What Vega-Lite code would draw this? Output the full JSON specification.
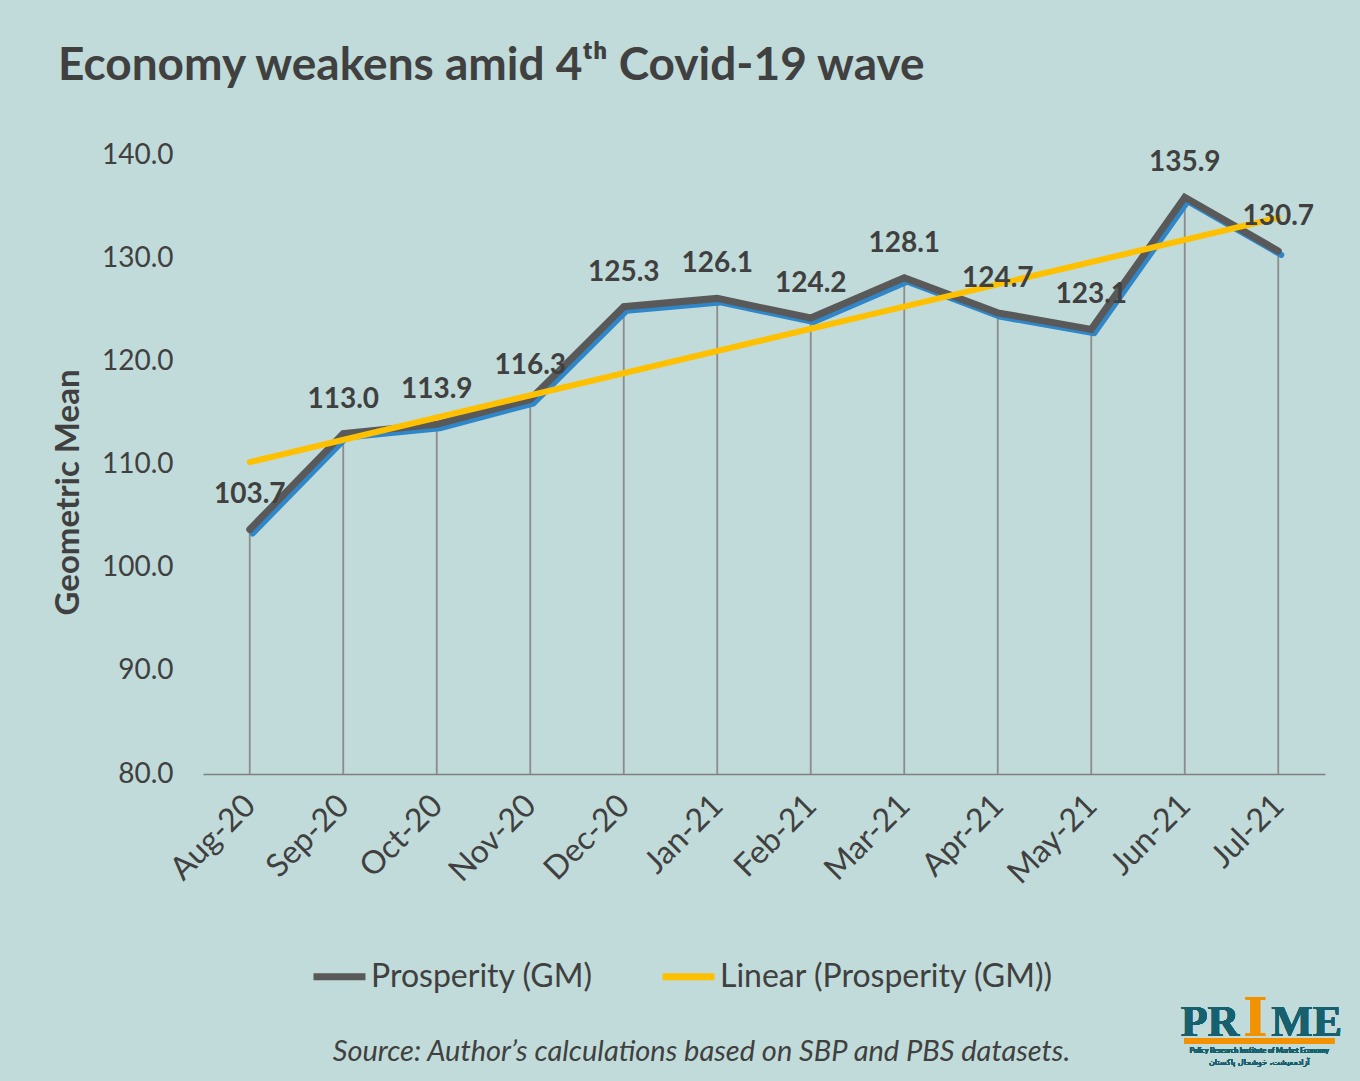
{
  "$schema": "https://vega.github.io/schema/vega-lite/v6.json",
  "width": 1122,
  "height": 619,
  "autosize": {"type": "none"},
  "padding": {"left": 203, "top": 155, "right": 35, "bottom": 307},
  "background": "#c0dbd9",
  "config": {
    "view": {"stroke": null},
    "font": "Lato",
    "legend": {"orient": "none"}
  },
  "title": {
    "text": "Economy weakens amid 4ᵗʰ Covid-19 wave",
    "anchor": "start",
    "frame": "group",
    "orient": "top",
    "font": "Lato",
    "fontSize": 46,
    "fontWeight": "bold",
    "color": "#404040",
    "dx": -145,
    "offset": 15,
    "baseline": "alphabetic"
  },
  "data": {
    "values": [
      {"i": 0, "month": "Aug-20", "value": 103.7},
      {"i": 1, "month": "Sep-20", "value": 113.0},
      {"i": 2, "month": "Oct-20", "value": 113.9},
      {"i": 3, "month": "Nov-20", "value": 116.3},
      {"i": 4, "month": "Dec-20", "value": 125.3},
      {"i": 5, "month": "Jan-21", "value": 126.1},
      {"i": 6, "month": "Feb-21", "value": 124.2},
      {"i": 7, "month": "Mar-21", "value": 128.1},
      {"i": 8, "month": "Apr-21", "value": 124.7},
      {"i": 9, "month": "May-21", "value": 123.1},
      {"i": 10, "month": "Jun-21", "value": 135.9},
      {"i": 11, "month": "Jul-21", "value": 130.7}
    ]
  },
  "encoding": {
    "x": {
      "field": "i",
      "type": "quantitative",
      "scale": {"domain": [-0.5, 11.5], "nice": false, "zero": false},
      "axis": {
        "values": [0, 1, 2, 3, 4, 5, 6, 7, 8, 9, 10, 11],
        "labelExpr": "['Aug-20','Sep-20','Oct-20','Nov-20','Dec-20','Jan-21','Feb-21','Mar-21','Apr-21','May-21','Jun-21','Jul-21'][datum.value]",
        "grid": false,
        "ticks": false,
        "tickSize": 0,
        "domainColor": "#7f7f7f",
        "domainWidth": 1.5,
        "labelAngle": -45,
        "labelAlign": "right",
        "labelBaseline": "middle",
        "labelPadding": 26,
        "labelFontSize": 32,
        "labelColor": "#404040",
        "labelFont": "Lato",
        "labelOverlap": false,
        "title": "Source: Author’s calculations based on SBP and PBS datasets.",
        "titleFont": "Lato",
        "titleFontSize": 29,
        "titleFontStyle": "italic",
        "titleFontWeight": "normal",
        "titleColor": "#404040",
        "titleX": 498,
        "titleY": 286,
        "titleAlign": "center",
        "titleBaseline": "alphabetic",
        "titleAnchor": "start"
      }
    },
    "y": {
      "field": "value",
      "type": "quantitative",
      "scale": {"domain": [80, 140], "nice": false, "zero": false},
      "axis": {
        "values": [80, 90, 100, 110, 120, 130, 140],
        "format": ".1f",
        "grid": false,
        "domain": false,
        "ticks": false,
        "tickSize": 0,
        "labelPadding": 30,
        "labelFontSize": 28,
        "labelColor": "#404040",
        "labelFont": "Lato",
        "title": "Geometric Mean",
        "titleFont": "Lato",
        "titleFontSize": 33,
        "titleFontWeight": "bold",
        "titleColor": "#404040",
        "titleAngle": 270,
        "titleX": -135,
        "titleY": 337,
        "titleAlign": "center",
        "titleBaseline": "middle",
        "titleAnchor": "start"
      }
    }
  },
  "layer": [
    {
      "mark": {"type": "rule", "color": "#8c8c8c", "strokeWidth": 1.8},
      "encoding": {"y2": {"datum": 80}}
    },
    {
      "mark": {"type": "line", "color": "#2f86c9", "strokeWidth": 6, "strokeCap": "round", "strokeJoin": "round", "xOffset": 3, "yOffset": 4}
    },
    {
      "mark": {"type": "line", "strokeWidth": 7, "strokeCap": "round", "strokeJoin": "miter"},
      "encoding": {
        "color": {
          "datum": "Prosperity (GM)",
          "type": "nominal",
          "scale": {"domain": ["Prosperity (GM)", "Linear (Prosperity (GM))"], "range": ["#595959", "#ffc000"]},
          "legend": {
            "title": null,
            "direction": "horizontal",
            "orient": "none",
            "legendX": 107,
            "legendY": 792,
            "symbolType": "stroke",
            "symbolSize": 2700,
            "symbolStrokeWidth": 7,
            "labelFontSize": 32,
            "labelLimit": 0,
            "labelColor": "#404040",
            "labelFont": "Lato",
            "labelOffset": 2,
            "columnPadding": 55
          }
        }
      }
    },
    {
      "transform": [{"regression": "value", "on": "i", "method": "linear"}],
      "mark": {"type": "line", "strokeWidth": 6, "strokeCap": "round"},
      "encoding": {
        "color": {"datum": "Linear (Prosperity (GM))", "type": "nominal"}
      }
    },
    {
      "mark": {"type": "text", "font": "Lato", "fontSize": 28, "fontWeight": "bold", "color": "#404040", "dy": -34, "align": "center", "baseline": "middle"},
      "encoding": {"text": {"field": "value", "type": "quantitative", "format": ".1f"}}
    },
    {
      "mark": {"type": "rule", "color": "#f39200", "strokeWidth": 5},
      "encoding": {
        "x": {"datum": 9.997, "type": "quantitative"},
        "x2": {"datum": 11.598},
        "y": {"datum": 54.12, "type": "quantitative"}
      }
    },
    {
      "mark": {"type": "text", "font": "Liberation Serif", "fontSize": 44, "fontWeight": "bold", "color": "#17606e", "align": "right", "baseline": "alphabetic"},
      "encoding": {
        "x": {"datum": 10.584, "type": "quantitative"},
        "y": {"datum": 54.6, "type": "quantitative"},
        "text": {"value": "PR"}
      }
    },
    {
      "mark": {"type": "text", "font": "Liberation Serif", "fontSize": 44, "fontWeight": "bold", "color": "#17606e", "align": "left", "baseline": "alphabetic"},
      "encoding": {
        "x": {"datum": 10.925, "type": "quantitative"},
        "y": {"datum": 54.6, "type": "quantitative"},
        "text": {"value": "ME"}
      }
    },
    {
      "mark": {"type": "text", "font": "Liberation Serif", "fontSize": 60, "fontWeight": "bold", "color": "#f39200", "align": "center", "baseline": "alphabetic"},
      "encoding": {
        "x": {"datum": 10.755, "type": "quantitative"},
        "y": {"datum": 54.6, "type": "quantitative"},
        "text": {"value": "I"}
      }
    },
    {
      "mark": {"type": "text", "font": "Lato", "fontSize": 7, "fontWeight": "bold", "color": "#17606e", "align": "center", "baseline": "middle"},
      "encoding": {
        "x": {"datum": 10.797, "type": "quantitative"},
        "y": {"datum": 53.15, "type": "quantitative"},
        "text": {"value": "Policy Research Institute of Market Economy"}
      }
    },
    {
      "mark": {"type": "text", "font": "DejaVu Sans", "fontSize": 8, "color": "#17606e", "align": "center", "baseline": "middle"},
      "encoding": {
        "x": {"datum": 10.797, "type": "quantitative"},
        "y": {"datum": 52.0, "type": "quantitative"},
        "text": {"value": "آزادمعیشت، خوشحال پاکستان"}
      }
    }
  ]
}
